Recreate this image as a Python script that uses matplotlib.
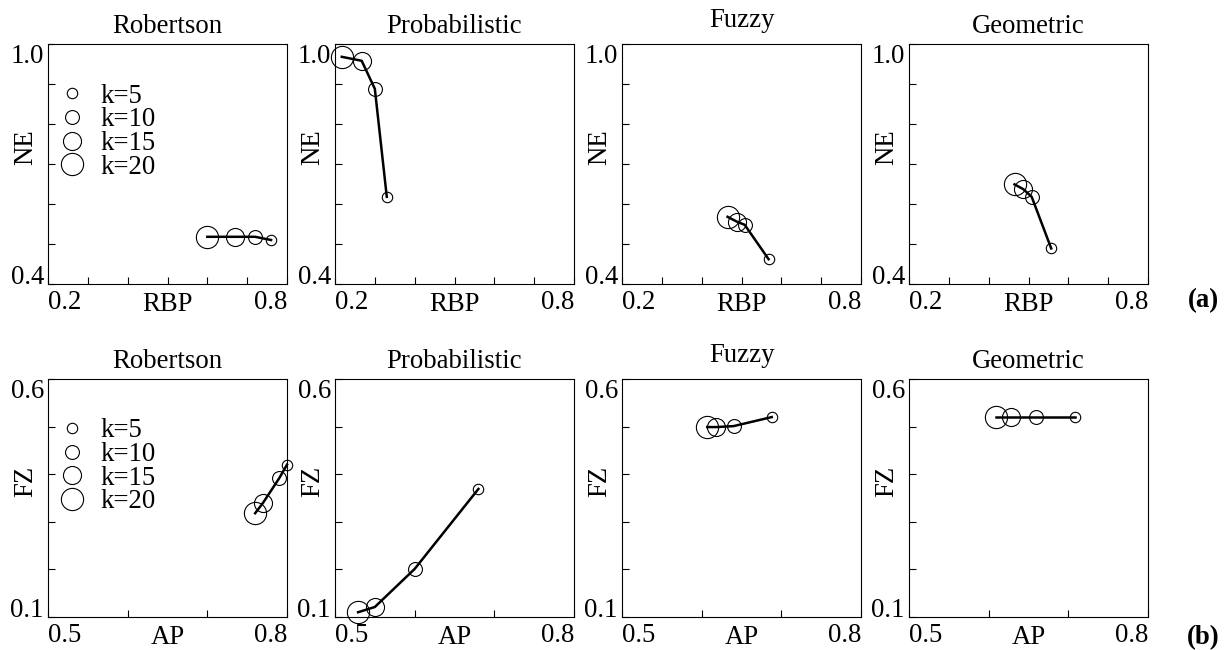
import matplotlib
matplotlib.use("Agg")
import matplotlib.pyplot as plt
from matplotlib.lines import Line2D

plt.rcParams["font.family"] = ["Liberation Serif", "DejaVu Serif"]
plt.rcParams["font.size"] = 19.3

methods = ["Robertson", "Probabilistic", "Fuzzy", "Geometric"]
k_values = [5, 10, 15, 20]
marker_sizes = [7.5, 10, 13, 16]

# row (a): RBP vs NE, points ordered k=5, 10, 15, 20
rbp = {
    "Robertson": [0.76, 0.72, 0.67, 0.60],
    "Probabilistic": [0.33, 0.30, 0.267, 0.217],
    "Fuzzy": [0.568, 0.508, 0.488, 0.465],
    "Geometric": [0.557, 0.508, 0.487, 0.465],
}
ne = {
    "Robertson": [0.51, 0.518, 0.518, 0.518],
    "Probabilistic": [0.618, 0.888, 0.958, 0.968],
    "Fuzzy": [0.462, 0.548, 0.556, 0.568],
    "Geometric": [0.489, 0.618, 0.637, 0.649],
}

# row (b): AP vs FZ
ap = {
    "Robertson": [0.80, 0.79, 0.77, 0.76],
    "Probabilistic": [0.68, 0.60, 0.55, 0.529],
    "Fuzzy": [0.688, 0.64, 0.618, 0.607],
    "Geometric": [0.708, 0.66, 0.628, 0.609],
}
fz = {
    "Robertson": [0.42, 0.391, 0.34, 0.318],
    "Probabilistic": [0.369, 0.201, 0.121, 0.11],
    "Fuzzy": [0.52, 0.501, 0.499, 0.499],
    "Geometric": [0.52, 0.52, 0.52, 0.52],
}

rows = [
    dict(x=rbp, y=ne, xlab="RBP", ylab="NE", xlim=(0.2, 0.8), ylim=(0.4, 1.0),
         xminor=[0.3, 0.4, 0.5, 0.6, 0.7], yminor=[0.5, 0.6, 0.7, 0.8, 0.9],
         xt=["0.2", "0.8"], yt=["0.4", "1.0"], top=44, bot=284, tag="(a)", tag_off=17),
    dict(x=ap, y=fz, xlab="AP", ylab="FZ", xlim=(0.5, 0.8), ylim=(0.1, 0.6),
         xminor=[0.6, 0.7], yminor=[0.2, 0.3, 0.4, 0.5],
         xt=["0.5", "0.8"], yt=["0.1", "0.6"], top=379, bot=617, tag="(b)", tag_off=21),
]
title_pads = {"Robertson": 8, "Probabilistic": 8, "Fuzzy": 12, "Geometric": 8}

W, H = 1227, 650
fig = plt.figure(figsize=(W / 100, H / 100), dpi=100)
lefts = [48, 335, 622, 909]
aw = 239

for r in rows:
    for j, m in enumerate(methods):
        ax = fig.add_axes([lefts[j] / W, (H - r["bot"]) / H, aw / W, (r["bot"] - r["top"]) / H])
        xs, ys = r["x"][m], r["y"][m]
        ax.plot(xs, ys, color="black", lw=1.8, zorder=3, clip_on=False)
        for xv, yv, ms in zip(xs, ys, marker_sizes):
            ax.plot([xv], [yv], "o", ms=ms, mfc="none", mec="black", mew=0.8,
                    zorder=4, clip_on=False)
        ax.set_xlim(*r["xlim"])
        ax.set_ylim(*r["ylim"])
        ax.set_xticks(list(r["xlim"]))
        ax.set_xticklabels(r["xt"])
        ax.set_yticks(list(r["ylim"]))
        ax.set_yticklabels(r["yt"])
        ax.set_xticks(r["xminor"], minor=True)
        ax.set_yticks(r["yminor"], minor=True)
        ax.tick_params(which="both", direction="in", length=5, width=0.8,
                       top=False, right=False)
        ax.tick_params(axis="x", pad=4)
        ax.tick_params(axis="y", pad=3)
        xl = ax.get_xticklabels()
        xl[0].set_horizontalalignment("left")
        xl[-1].set_horizontalalignment("right")
        yl = ax.get_yticklabels()
        yl[0].set_verticalalignment("baseline")
        yl[-1].set_verticalalignment("top")
        for s in ax.spines.values():
            s.set_linewidth(0.8)
        ax.set_title(m, pad=title_pads[m], fontsize=19.3)
        ax.set_xlabel(r["xlab"])
        ax.xaxis.set_label_coords(0.5, -0.035)
        ax.set_ylabel(r["ylab"])
        ax.yaxis.set_label_coords(-0.04, 0.57)
        if j == 0:
            handles = [Line2D([], [], ls="none", marker="o", ms=ms, mfc="none",
                              mec="black", mew=0.8) for ms in marker_sizes]
            ax.legend(handles, [f"k={k}" for k in k_values], loc="upper left",
                      bbox_to_anchor=(0.046, 0.835), frameon=False, handlelength=1.0,
                      handletextpad=0.55, labelspacing=-0.05, borderpad=0,
                      borderaxespad=0)
    fig.text(1203 / W, 1 - (r["bot"] + r["tag_off"]) / H, r["tag"], ha="center",
             va="center", fontweight="bold")

fig.savefig("out.png", dpi=100)
